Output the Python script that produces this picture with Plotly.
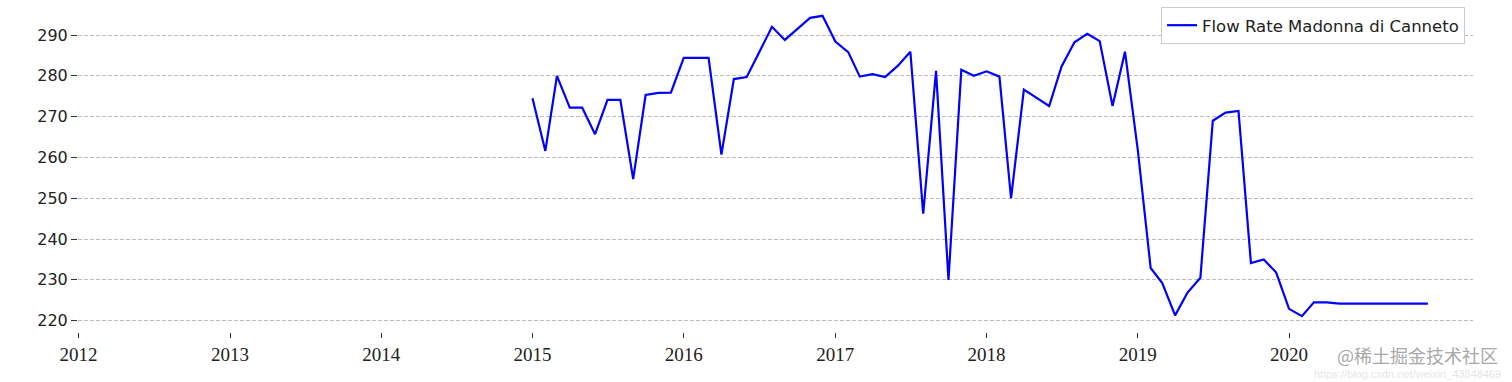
import pandas as pd
import plotly.graph_objects as go

dates = pd.date_range("2015-01-01", "2020-12-01", freq="MS")
flow_2015 = [274.5, 261.6, 280.0, 272.2, 272.2, 265.7, 274.1, 274.1, 254.7, 275.3, 275.8, 275.9]
flow_2016 = [284.4, 284.4, 284.4, 260.7, 279.2, 279.7, 285.6, 292.0, 288.8, 291.5, 294.2, 294.7]
flow_2017 = [288.4, 285.8, 279.8, 280.4, 279.7, 282.5, 285.9, 246.2, 281.2, 230.0, 281.5, 280.0]
flow_2018 = [281.1, 279.8, 250.0, 276.6, 274.6, 272.6, 282.3, 288.2, 290.3, 288.5, 272.6, 285.9]
flow_2019 = [261.8, 232.9, 229.2, 221.3, 226.9, 230.5, 269.0, 271.0, 271.4, 234.1, 235.0, 231.8]
flow_2020 = [222.9, 221.1, 224.5, 224.5, 224.2, 224.2, 224.3, 224.3, 224.3, 224.3, 224.3, 224.2]
flow = flow_2015 + flow_2016 + flow_2017 + flow_2018 + flow_2019 + flow_2020

x_tick_years = [2012, 2013, 2014, 2015, 2016, 2017, 2018, 2019, 2020]
x_tick_vals = [f"{y}-01-01" for y in x_tick_years]
x_tick_text = [str(y) for y in x_tick_years]
y_ticks = [220, 230, 240, 250, 260, 270, 280, 290]
series_name = "Flow Rate Madonna di Canneto"

fig = go.Figure()
fig.add_trace(go.Scatter(x=dates, y=flow, mode="lines", name=series_name,
                         line=dict(color="#0000ff", width=2.2)))

fig.update_layout(
    width=1512, height=382,
    margin=dict(l=78, r=39, t=1, b=50),
    paper_bgcolor="white", plot_bgcolor="white",
    showlegend=True,
    legend=dict(x=0.9943, xanchor="right", y=0.982, yanchor="top",
                bgcolor="white", bordercolor="#cccccc", borderwidth=1,
                font=dict(family="DejaVu Sans", size=16.5, color="#222222")),
    xaxis=dict(range=["2011-12-31", "2021-03-20"], tickvals=x_tick_vals, ticktext=x_tick_text,
               showgrid=False, zeroline=False, showline=False,
               ticks="outside", ticklen=5, tickwidth=1, tickcolor="#333333",
               tickfont=dict(family="Liberation Serif", size=19, color="#222222")),
    yaxis=dict(range=[217.23, 298.33], tickvals=y_ticks, showgrid=True,
               gridcolor="#bdbdbd", gridwidth=1, griddash="4px,2px",
               zeroline=False, showline=False,
               ticks="outside", ticklen=6, tickwidth=1, tickcolor="#333333",
               tickfont=dict(family="DejaVu Sans", size=16, color="#222222")),
    annotations=[
        dict(text="@稀土掘金技术社区", xref="paper", yref="paper", x=0.960, y=-0.070,
             xanchor="center", yanchor="middle", showarrow=False,
             font=dict(family="Noto Sans CJK SC", size=18, color="#a8a8a8")),
        dict(text="https://blog.csdn.net/weixin_43848469", xref="paper", yref="paper",
             x=0.953, y=-0.128, xanchor="center", yanchor="middle", showarrow=False,
             font=dict(family="Liberation Sans", size=11, color="#e6e6e6")),
    ],
)

fig.write_html("out.html")
